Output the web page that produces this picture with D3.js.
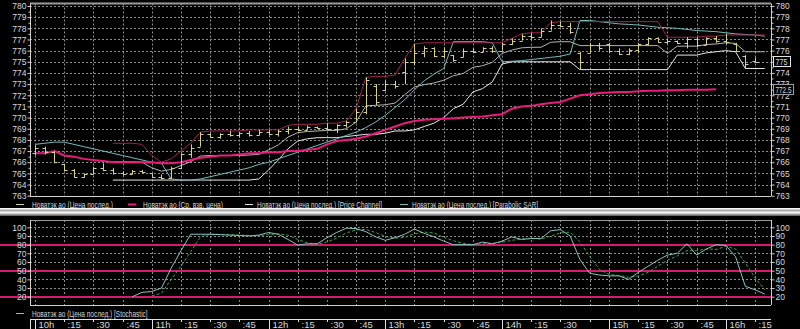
<!DOCTYPE html>
<html>
<head>
<meta charset="utf-8">
<script src="https://cdn.jsdelivr.net/npm/d3@7"></script>
<style>
body { margin: 0; background: #000; }
svg { display: block; }
text { font-family: "Liberation Sans", Arial, sans-serif; fill: #d8d8d8; }
</style>
</head>
<body>
<svg id="chart"></svg>
<script>
// time axis: bar slot index of each tick and its label
const timeTicks  = [0, 3, 6, 9, 12, 15, 18, 21, 24, 27, 30, 33, 36, 39, 42, 45, 48, 51, 54, 57, 59, 62, 65, 68, 71, 74];
const timeLabels = ["10h", ":15", ":30", ":45", "11h", ":15", ":30", ":45", "12h", ":15", ":30", ":45",
                    "13h", ":15", ":30", ":45", "14h", ":15", ":30", "", "15h", ":15", ":30", ":45", "16h", ":15"];

const priceTicks = [763, 764, 765, 766, 767, 768, 769, 770, 771, 772, 773, 774, 775, 776, 777, 778, 779, 780];
const stochTicks = [20, 30, 40, 50, 60, 70, 80, 90, 100];
const stochLevels = [80, 50, 20];

// price bars, one per 5 minutes
const barOpen  = [766.8, 767.3, 766.9, 765.8, 765.3, 764.7, 764.9, 765.5, 765.3, 765.0, 764.9, 765.2, 765.0, 764.7, 764.6,
                  765.5, 766.7, 767.4, 768.5, 768.3, 768.5, 768.4, 768.6, 768.4, 768.7, 768.5, 768.8, 769.0, 768.9, 769.2,
                  769.1, 769.0, 769.3, 769.6, 770.5, 772.8, 772.5, 773.0, 774.1, 775.0, 775.8, 776.2, 775.5, 775.6, 775.4,
                  776.0, 775.9, 776.2, 776.0, 776.6, 776.9, 777.3, 777.2, 777.8, 778.3, 778.2, 775.8, 775.8, 776.5, 776.6,
                  776.0, 775.7, 776.1, 776.6, 777.1, 776.8, 776.9, 776.7, 777.0, 776.5, 777.1, 776.9, 776.6, 775.5, 775.1];
const barHigh  = [767.5, 767.4, 767.0, 765.8, 765.4, 765.0, 765.6, 765.9, 765.5, 765.2, 765.3, 765.3, 765.0, 764.9, 765.6,
                  766.8, 767.6, 768.7, 768.6, 768.6, 768.8, 768.7, 768.8, 768.9, 768.9, 768.9, 769.2, 769.2, 769.3, 769.2,
                  769.5, 769.4, 769.7, 770.8, 773.6, 773.0, 773.3, 773.3, 775.3, 776.6, 776.4, 776.3, 776.3, 775.6, 776.2,
                  776.2, 776.3, 776.4, 776.7, 777.1, 777.5, 777.6, 778.0, 778.7, 778.6, 778.5, 775.9, 776.7, 776.7, 776.7,
                  776.2, 776.2, 776.7, 777.2, 777.2, 777.1, 776.9, 777.2, 777.2, 777.2, 777.3, 777.5, 776.7, 775.6, 775.4];
const barLow   = [766.6, 766.7, 765.9, 765.2, 764.6, 764.6, 764.9, 765.2, 764.9, 764.8, 764.9, 765.0, 764.6, 764.4, 764.5,
                  765.4, 766.4, 767.4, 768.2, 768.1, 768.3, 768.2, 768.3, 768.4, 768.4, 768.3, 768.5, 768.8, 768.9, 769.0,
                  768.9, 768.6, 769.1, 769.6, 770.3, 771.1, 772.4, 772.6, 773.0, 774.7, 775.4, 775.4, 775.3, 775.0, 775.4,
                  775.8, 775.9, 775.8, 776.0, 776.5, 776.9, 777.0, 777.2, 777.8, 778.1, 777.5, 774.3, 775.8, 776.0, 775.8,
                  775.6, 775.6, 775.8, 776.5, 776.7, 776.6, 776.6, 776.2, 776.3, 776.5, 776.7, 776.6, 775.9, 774.4, 775.0];
const barClose = [767.3, 766.9, 766.0, 765.3, 764.7, 764.9, 765.5, 765.3, 765.0, 764.9, 765.2, 765.1, 764.7, 764.6, 765.5,
                  766.7, 767.3, 768.5, 768.3, 768.5, 768.4, 768.6, 768.4, 768.7, 768.5, 768.8, 769.0, 768.9, 769.2, 769.1,
                  769.0, 769.3, 769.6, 770.5, 773.4, 771.4, 773.0, 772.8, 775.0, 775.8, 776.2, 775.5, 776.0, 775.2, 776.0,
                  775.9, 776.2, 776.0, 776.6, 776.9, 777.3, 777.2, 777.8, 778.3, 778.2, 777.7, 775.0, 776.5, 776.2, 776.0,
                  775.7, 776.1, 776.6, 777.1, 776.8, 776.9, 776.7, 777.0, 776.5, 777.1, 776.9, 776.8, 776.0, 774.8, 775.0];

// volume weighted average price (slots 0..70)
const vwap = [766.8, 766.8, 767.0, 766.6, 766.5, 766.3, 766.2, 766.1, 766.0, 766.0, 766.0, 766.0, 766.0, 765.9, 765.9,
              766.0, 766.2, 766.4, 766.5, 766.6, 766.6, 766.7, 766.8, 766.8, 766.9, 766.9, 767.0, 767.0, 767.1, 767.2,
              767.6, 767.9, 768.0, 768.1, 768.3, 768.6, 768.9, 769.2, 769.5, 769.7, 769.8, 769.85, 769.9, 769.95, 770.0,
              770.05, 770.1, 770.2, 770.3, 770.8, 771.0, 771.05, 771.2, 771.3, 771.4, 771.7, 772.0, 772.1, 772.2, 772.25,
              772.3, 772.3, 772.35, 772.4, 772.4, 772.45, 772.45, 772.5, 772.5, 772.5, 772.55];

// price channel, starts at slot 8, runs to slot 75
const chanStart = 8;
const chanUpper = [767.7, 767.7, 767.7, 767.6, 766.6, 766.0, 766.3, 767.0, 767.7, 768.7, 768.8, 768.8, 768.8, 768.8,
                   768.9, 768.9, 768.9, 768.9, 769.3, 769.4, 769.4, 769.4, 769.5, 769.5, 769.7, 770.8, 773.6, 773.7,
                   773.7, 773.8, 775.3, 776.6, 776.7, 776.7, 776.7, 776.7, 776.7, 776.7, 776.7, 776.7, 776.7, 777.1,
                   777.5, 777.6, 777.6, 778.5, 778.6, 778.6, 778.6, 778.6, 778.6, 778.6, 778.6, 778.6, 778.6, 778.6,
                   778.6, 777.2, 777.2, 777.2, 777.2, 777.3, 777.3, 777.4, 777.4, 777.4, 777.4, 777.4];
const chanMiddle = [766.05, 766.05, 766.05, 766.0, 765.5, 765.2, 765.35, 765.7, 766.05, 766.55, 766.6, 766.6, 766.6, 766.6,
                    766.65, 766.7, 767.1, 767.55, 768.25, 768.65, 768.75, 768.8, 768.85, 768.85, 769.0, 769.6, 771.05, 771.1,
                    771.15, 771.3, 772.05, 772.75, 772.95, 773.1, 773.35, 773.75, 773.95, 774.5, 774.65, 774.95, 775.75, 776.05,
                    776.25, 776.3, 776.3, 776.75, 776.8, 776.8, 776.45, 776.45, 776.45, 776.45, 776.45, 776.45, 776.45, 776.45,
                    776.45, 775.75, 776.4, 776.4, 776.4, 776.55, 776.6, 776.7, 776.65, 775.9, 775.9, 775.9];
const chanLower = [764.4, 764.4, 764.4, 764.4, 764.4, 764.4, 764.4, 764.4, 764.4, 764.4, 764.4, 764.4, 764.4, 764.4,
                   764.4, 764.5, 765.3, 766.2, 767.2, 767.9, 768.1, 768.2, 768.2, 768.2, 768.3, 768.4, 768.5, 768.5,
                   768.6, 768.8, 768.8, 768.9, 769.2, 769.5, 770.0, 770.8, 771.2, 772.3, 772.6, 773.2, 774.8, 775.0,
                   775.0, 775.0, 775.0, 775.0, 775.0, 775.0, 774.3, 774.3, 774.3, 774.3, 774.3, 774.3, 774.3, 774.3,
                   774.3, 774.3, 775.6, 775.6, 775.6, 775.8, 775.9, 776.0, 775.9, 774.4, 774.4, 774.4];

// parabolic SAR, slots 0..75
const sar = [767.6, 767.7, 767.8, 767.8, 767.6, 767.4, 767.2, 767.0, 766.8, 766.6, 766.4, 766.2, 766.0, 765.9, 764.5,
             764.4, 764.4, 764.5, 764.7, 764.9, 765.1, 765.3, 765.5, 765.8, 766.0, 766.3, 766.6, 766.9, 767.2, 767.5,
             767.8, 768.1, 768.4, 768.7, 769.1, 769.6, 770.2, 770.9, 771.6, 772.5, 773.3, 773.9, 774.4, 776.8, 776.8,
             776.8, 776.8, 776.7, 775.0, 775.05, 775.1, 775.2, 775.3, 775.4, 775.5, 775.7, 778.7, 778.7, 778.6, 778.5,
             778.4, 778.35, 778.3, 778.2, 778.1, 778.05, 778.0, 777.9, 777.8, 777.75, 777.7, 777.6, 777.5, 777.45, 777.4, 777.3];

// stochastic %K from slot 10, %D from slot 12
const stochKStart = 10;
const stochK = [20, 25, 26, 30, 53, 73, 92, 92, 92, 91.5, 91, 90.5, 90, 91, 94, 92, 86, 79.5, 81, 81,
                88, 94, 99, 98.5, 95, 89, 85, 88, 92, 98, 93, 89, 84, 80, 80, 80, 83, 81, 84, 89,
                86, 87, 87, 96, 97.3, 90, 63, 47, 45, 44, 44, 40, 48, 55, 62, 68, 70, 81, 68, 75,
                80, 79, 66, 32, 28, 23];
const stochDStart = 12;
const stochD = [21, 24, 40, 55, 72, 89, 92, 92, 91.5, 91, 90.5, 90.5, 91.5, 92.5, 91, 86, 82, 80.5, 83, 87.5,
                93.5, 97, 97.5, 94, 89.5, 87.5, 88.5, 92.5, 94.5, 93.5, 88.5, 84.5, 81.5, 80, 81, 81.5, 82.5, 85, 86.5, 87.5,
                86.5, 90, 93.5, 94.5, 83.5, 66.5, 51.5, 45.5, 44.5, 42.5, 44, 48, 55, 62, 67, 73, 73, 75, 74.5, 78,
                75, 59, 42, 28];

const lastPrice = 775;
const lastVwap = 772.5;

const legendTop = ["Новатэк ао (Цена послед.)", "Новатэк ао (Ср. взв. цена)",
                   "Новатэк ао (Цена послед.) [Price Channel]", "Новатэк ао (Цена послед.) [Parabolic SAR]"];
const legendBottom = ["Новатэк ао (Цена послед.) [Stochastic]"];

const colPrice = "#d6d28e", colVwap = "#ec1a7c", colUpper = "#a8204e", colMid = "#b4b4b4",
      colLower = "#e8e8e8", colSar = "#72bcbc", colK = "#86c4c4", colD = "#3aa83a", colGrid = "#8c8c8c";

const W = 800, H = 329;
const left = 30, right = 771;

const svg = d3.select("#chart").attr("width", W).attr("height", H);
svg.append("rect").attr("width", W).attr("height", H).attr("fill", "#000");

const x = d3.scaleLinear().domain([-0.514, 75.64]).range([left, right]);

function styleAxis(g, fontSize) {
    g.select(".domain").attr("stroke", "#d0d0d0");
    g.selectAll(".tick line").attr("stroke", "#d0d0d0");
    g.selectAll("text").attr("fill", "#dcdcdc").style("font-size", fontSize + "px");
}

// squeeze a text horizontally so it spans the given width (the source font is a narrow bitmap face)
function narrowText(parent, tx, ty, width, size, label, fill) {
    let g = parent.append("g");
    let t = g.append("text").style("font-size", size + "px").attr("fill", fill || "#dedede").text(label);
    let natural = t.node().getComputedTextLength();
    g.attr("transform", `translate(${tx},${ty}) scale(${width / natural},1)`);
    return g;
}

function drawVGrid(top, bottom) {
    svg.append("g")
        .selectAll("line")
        .data(timeTicks)
        .enter().append("line")
        .attr("x1", d => Math.round(x(d)) + 0.5).attr("x2", d => Math.round(x(d)) + 0.5)
        .attr("y1", top).attr("y2", bottom)
        .attr("stroke", colGrid).attr("stroke-dasharray", "2,2");
}

function drawHGrid(scale, values) {
    svg.append("g")
        .selectAll("line")
        .data(values)
        .enter().append("line")
        .attr("x1", left).attr("x2", right)
        .attr("y1", d => Math.round(scale(d)) + 0.5).attr("y2", d => Math.round(scale(d)) + 0.5)
        .attr("stroke", colGrid).attr("stroke-dasharray", "2,2");
}

function drawPricePanel() {
    const top = 3.5, bottom = 196;
    let y = d3.scaleLinear().domain([763, 780]).range([195.7, 6]);

    drawHGrid(y, priceTicks.slice(1));
    drawVGrid(top, bottom);

    // frame
    svg.append("line").attr("x1", left).attr("x2", right).attr("y1", top).attr("y2", top)
        .attr("stroke", "#9a9a9a").attr("stroke-width", 2);
    svg.append("line").attr("x1", left).attr("x2", right).attr("y1", bottom + 0.5).attr("y2", bottom + 0.5)
        .attr("stroke", "#d0d0d0");

    let minor = priceTicks.slice(1).map(d => d - 0.5);
    // on the right the boxed values take the place of these labels
    let hiddenRight = [775];
    [[d3.axisLeft, left], [d3.axisRight, right]].forEach(([axisFn, pos]) => {
        let g = svg.append("g").attr("transform", `translate(${pos + 0.5},0)`)
            .call(axisFn(y).tickValues(priceTicks).tickSize(3).tickSizeOuter(0).tickPadding(1).tickFormat(d3.format("d")));
        styleAxis(g, 8.5);
        g.select(".domain").attr("d", `M0,${top}V${bottom}`);
        if (pos === right) {
            g.selectAll(".tick text").filter(d => hiddenRight.indexOf(d) >= 0).remove();
        }
        let m = svg.append("g").attr("transform", `translate(${pos + 0.5},0)`)
            .call(axisFn(y).tickValues(minor).tickSize(2).tickSizeOuter(0).tickFormat(""));
        m.select(".domain").remove();
        m.selectAll(".tick line").attr("stroke", "#d0d0d0");
    });

    let line = (start) => d3.line().x((d, i) => x(i + start)).y(d => y(d));

    svg.append("path").attr("d", line(chanStart)(chanLower)).attr("fill", "none").attr("stroke", colLower);
    svg.append("path").attr("d", line(chanStart)(chanMiddle)).attr("fill", "none").attr("stroke", colMid);
    svg.append("path").attr("d", line(0)(sar)).attr("fill", "none").attr("stroke", colSar);
    svg.append("path").attr("d", line(chanStart)(chanUpper)).attr("fill", "none").attr("stroke", colUpper);
    svg.append("path").attr("d", line(0)(vwap)).attr("fill", "none").attr("stroke", colVwap).attr("stroke-width", 2);

    // OHLC bars
    svg.append("g")
        .selectAll("path")
        .data(barHigh.map((h, i) => ({ i: i, o: barOpen[i], h: h, l: barLow[i], c: barClose[i] })))
        .enter().append("path")
        .attr("d", d => {
            let cx = Math.round(x(d.i)) + 0.5;
            let yo = Math.round(y(d.o)) + 0.5, yc = Math.round(y(d.c)) + 0.5;
            return `M${cx},${y(d.h)}V${y(d.l)}M${cx - 3},${yo}H${cx}M${cx},${yc}H${cx + 3}`;
        })
        .attr("fill", "none").attr("stroke", colPrice);

    // value boxes on the right axis
    let boxes = [
        { v: lastPrice, text: "775", w: 17, tw: 12, stroke: "#e6e6e6", fill: "#ececec" },
        { v: lastVwap, text: "772.5", w: 20, tw: 16, stroke: "#9c9c9c", fill: "#e2488e" }
    ];
    boxes.forEach(b => {
        let cy = Math.round(y(b.v));
        svg.append("rect")
            .attr("x", right + 2.5).attr("y", cy - 5.5)
            .attr("width", b.w).attr("height", 10)
            .attr("fill", "#000").attr("stroke", b.stroke);
        narrowText(svg, right + 4.5, cy + 3, b.tw, 8.5, b.text, b.fill);
    });
}

function drawLegend(labels, ypos, markers, textX, textW, colors, widths) {
    labels.forEach((label, i) => {
        svg.append("line").attr("x1", markers[i]).attr("x2", markers[i] + 8)
            .attr("y1", ypos + 0.5).attr("y2", ypos + 0.5)
            .attr("stroke", colors[i]).attr("stroke-width", widths[i]);
        narrowText(svg, textX[i], ypos + 3.5, textW[i], 9.5, label);
    });
}

function drawSeparator() {
    svg.append("rect").attr("x", 0).attr("y", 208).attr("width", W).attr("height", 8).attr("fill", "#cfcfcf");
    [[208.5, "#f4f4f4"], [210.5, "#a8a8a8"], [212.5, "#f4f4f4"], [214.5, "#9a9a9a"], [215.5, "#6a6a6a"]]
        .forEach(([yy, c]) => {
            svg.append("line").attr("x1", 0).attr("x2", W).attr("y1", yy).attr("y2", yy).attr("stroke", c);
        });
}

function drawStochPanel() {
    const top = 220, bottom = 305;
    let y = d3.scaleLinear().domain([20, 100]).range([296.7, 227.3]);

    drawHGrid(y, stochTicks.filter(d => stochLevels.indexOf(d) < 0));
    drawVGrid(top, bottom);

    svg.append("line").attr("x1", left).attr("x2", right).attr("y1", top + 0.5).attr("y2", top + 0.5)
        .attr("stroke", "#9a9a9a");
    svg.append("line").attr("x1", left).attr("x2", right).attr("y1", bottom + 0.5).attr("y2", bottom + 0.5)
        .attr("stroke", "#d0d0d0");

    svg.append("g").selectAll("line").data(stochLevels).enter().append("line")
        .attr("x1", 0).attr("x2", right)
        .attr("y1", d => Math.round(y(d))).attr("y2", d => Math.round(y(d)))
        .attr("stroke", "#d8186e").attr("stroke-width", 2);

    [[d3.axisLeft, left], [d3.axisRight, right]].forEach(([axisFn, pos]) => {
        let g = svg.append("g").attr("transform", `translate(${pos + 0.5},0)`)
            .call(axisFn(y).tickValues(stochTicks).tickSize(3).tickSizeOuter(0).tickPadding(1));
        styleAxis(g, 8.5);
        g.select(".domain").attr("d", `M0,${top}V${bottom}`);
    });

    let line = (start) => d3.line().x((d, i) => x(i + start)).y(d => y(d));
    svg.append("path").attr("d", line(stochDStart)(stochD)).attr("fill", "none")
        .attr("stroke", colD).attr("stroke-dasharray", "3,2");
    svg.append("path").attr("d", line(stochKStart)(stochK)).attr("fill", "none").attr("stroke", colK);
}

function drawTimeAxis() {
    const top = 319;
    svg.append("line").attr("x1", left).attr("x2", right).attr("y1", top + 0.5).attr("y2", top + 0.5)
        .attr("stroke", "#e0e0e0");
    svg.append("line").attr("x1", left + 0.5).attr("x2", left + 0.5).attr("y1", top).attr("y2", H)
        .attr("stroke", "#e0e0e0");

    let g = svg.append("g")
        .selectAll("g")
        .data(timeTicks.map((t, i) => ({ t: t, label: timeLabels[i] })))
        .enter().append("g")
        .attr("transform", d => `translate(${Math.round(x(d.t)) + 0.5},${top})`);
    g.append("line").attr("y1", 0).attr("y2", d => d.label.indexOf("h") > 0 ? H - top : 3)
        .attr("stroke", "#e0e0e0");
    g.append("text").attr("x", 3).attr("y", 8.5).style("font-size", "9.5px").attr("fill", "#e4e4e4").text(d => d.label);
}

drawPricePanel();
drawLegend(legendTop, 204, [16, 128, 245, 400], [32, 143, 257, 412], [81, 80, 125, 126],
           [colPrice, colVwap, colLower, colSar], [1, 2, 1, 1]);
drawSeparator();
drawStochPanel();
drawLegend(legendBottom, 313, [16], [32], [116], [colK], [1]);
drawTimeAxis();
</script>
</body>
</html>
